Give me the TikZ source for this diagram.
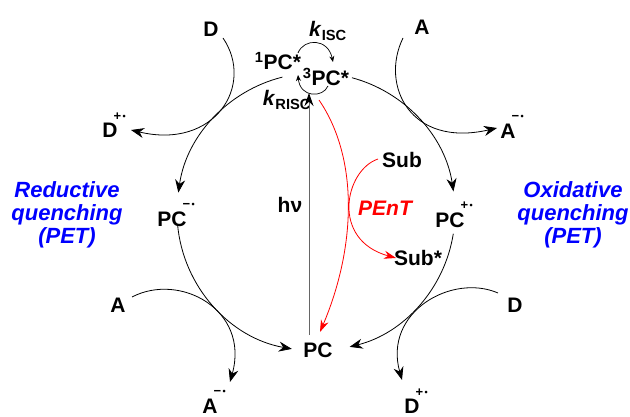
\documentclass[tikz,border=0pt]{standalone}
\usepackage{fontspec}
\setmainfont{Liberation Sans}
\usetikzlibrary{arrows.meta,calc}
\newcommand\rsup[1]{\rlap{\kern-4pt\raisebox{17.5pt}{\fontsize{13}{13}\selectfont #1}}}
\newcommand\rdot{\kern1.5pt\raisebox{1pt}{\fontsize{9}{9}\selectfont•}}
\newcommand\radp{\rsup{+\rdot}}
\newcommand\radm{\rsup{−\rdot}}
\tikzset{
  lbl/.style={font=\fontsize{21}{23}\selectfont\bfseries, inner sep=0pt},
  blu/.style={font=\fontsize{22}{23}\selectfont\bfseries\itshape, text=blue, align=center, inner sep=0pt},
  ln/.style={line width=0.8pt},
  arr/.style={ln, -{Stealth[length=13pt,width=10pt]}},
  sarr/.style={line width=0.7pt, -{Stealth[length=6pt,width=5pt]}},
  rarr/.style={red, line width=0.8pt, -{Stealth[length=12pt,width=8pt]}},
}
\begin{document}
\begin{tikzpicture}[x=1pt,y=1pt,yscale=-1]
\useasboundingbox (0,0) rectangle (630,417);
% labels
\node[lbl] (Dt) at (211,29) {D};
\node[lbl] (At) at (422,27) {A};
\node[lbl] (s1) at (278,61) {\textsuperscript{1}PC*};
\node[lbl] (t3) at (326,77) {\textsuperscript{3}PC*};
\node[lbl] (kisc) at (328,31) {\textit{k}\textsubscript{ISC}};
\node[lbl] (krisc) at (287,100) {\textit{k}\textsubscript{RISC}};
\node[lbl] (Dp) at (110,125) {D\radp};
\node[lbl] (Am) at (508,127) {A\radm};
\node[lbl] (PCm) at (172,215) {PC\radm};
\node[lbl] (PCp) at (450,215) {PC\radp};
\node[lbl] (hv) at (290,205) {hν};
\node[lbl, text=red, font=\fontsize{21}{23}\selectfont\bfseries\itshape] (pent) at (385,208) {PEnT};
\node[lbl] (sub) at (402,160) {Sub};
\node[lbl] (subs) at (418,258) {Sub*};
\node[lbl] (Al) at (118,305) {A};
\node[lbl] (Dr) at (515,305) {D};
\node[lbl] (PC) at (318,350) {PC};
\node[lbl] (Amb) at (210,402) {A\radm};
\node[lbl] (Dpb) at (412,401) {D\radp};
\node[blu] (redq) at (67,215) {Reductive\\quenching\\(PET)};
\node[blu] (oxiq) at (573,215) {Oxidative\\quenching\\(PET)};
% circle arcs
\coordinate (C) at (316,212);
\coordinate (a1) at ($(C)+(-104:139)$);
\coordinate (a2) at ($(C)+(175:139)$);
\coordinate (a3) at ($(C)+(-75:139)$);
\coordinate (a4) at ($(C)+(9:139)$);
\draw[arr] (a1) arc[start angle=-104, end angle=-172, radius=139];
\draw[arr] (a2) arc[start angle=175, end angle=100, radius=139];
\draw[arr] (a3) arc[start angle=-75, end angle=-8.5, radius=139];
\draw[arr] (a4) arc[start angle=9, end angle=76, radius=139];
% quencher arcs
\coordinate (dts) at (223,38);
\coordinate (dpe) at (131,130);
\coordinate (ats) at (403,38);
\coordinate (ame) at (497,128);
\coordinate (als) at (132,297);
\coordinate (abe) at (230,382);
\coordinate (drs) at (498,293);
\coordinate (dbe) at (402,380);
\draw[arr] (dts) .. controls (255,85) and (215,150) .. (dpe);
\draw[arr] (ats) .. controls (380,85) and (410,148) .. (ame);
\draw[arr] (als) .. controls (180,272) and (250,310) .. (abe);
\draw[arr] (drs) .. controls (452,273) and (383,312) .. (dbe);
% h nu
\coordinate (hvs) at (309,335);
\coordinate (hve) at (309,93);
\draw[line width=0.9pt, black!60, -{Stealth[length=13pt,width=9pt,black]}] (hvs) -- (hve);
% red energy transfer
\coordinate (rs) at (319,100);
\coordinate (re) at (320,332);
\draw[rarr] (rs) .. controls (360,160) and (355,250) .. (re);
\coordinate (ss) at (378,159);
\coordinate (se) at (396,258);
\draw[rarr] (ss) .. controls (345,170) and (330,240) .. (se);
% ISC / RISC
\coordinate (i1) at (298,53);
\coordinate (i2) at (333,62);
\coordinate (r1) at (328,86);
\coordinate (r2) at (298,75);
\draw[sarr] (i1) .. controls (304,38) and (328,38) .. (i2);
\draw[sarr] (r1) .. controls (323,98) and (300,98) .. (r2);
\end{tikzpicture}
\end{document}
